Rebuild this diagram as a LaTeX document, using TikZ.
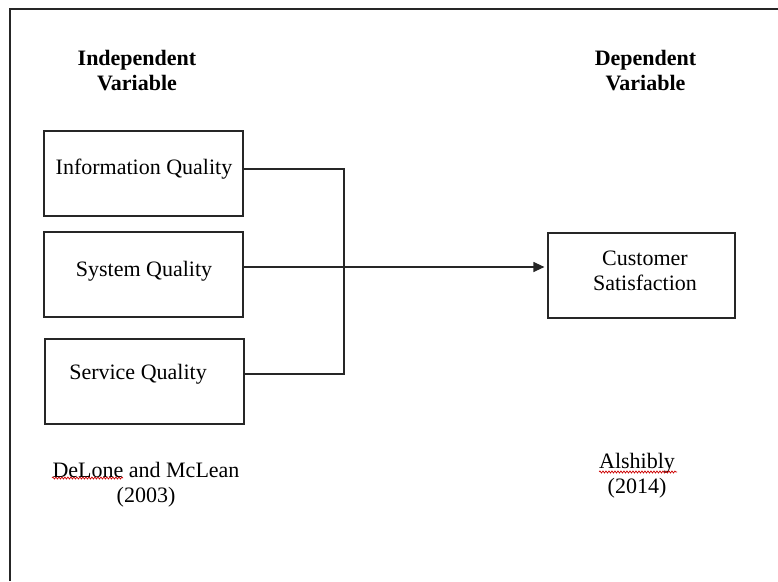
\documentclass[tikz,border=0pt]{standalone}
\usepackage{fontspec}
\setmainfont{Liberation Serif}
\usetikzlibrary{arrows.meta,decorations.pathmorphing}
\begin{document}
\begin{tikzpicture}[x=1pt,y=-1pt,
  box/.style={draw=black!85,line width=1.2pt,minimum width=199pt,minimum height=85pt,inner sep=0pt},
  txt/.style={inner sep=0pt,align=center,font=\fontsize{22}{25}\selectfont},
  head/.style={txt,font=\fontsize{22}{25}\selectfont\bfseries},
  conn/.style={draw=black!85,line width=1.2pt},
  squig/.style={draw=red!80!black,line width=0.7pt,decorate,decoration={snake,amplitude=1pt,segment length=3pt}}]
\useasboundingbox (0,0) rectangle (778,581);
% frame (open at right and bottom)
\draw[line width=2pt,black!85] (10,581) -- (10,9) -- (778,9);
% headings
\node[head] (ihead) at (137,70.5) {Independent\\Variable};
\node[head] (dhead) at (645.5,70.5) {Dependent\\Variable};
% boxes
\node[box] (info) at (143.5,173.5) {};
\node[box] (sys) at (143.5,274.5) {};
\node[box] (serv) at (144.5,381.5) {};
\node[box,minimum width=187pt] (cust) at (641.5,275.5) {};
% box texts
\node[txt] (itext) at (144,169) {Information Quality};
\node[txt] (stext) at (144,271) {System Quality};
\node[txt] (svtext) at (138,374) {Service Quality};
\node[txt] (ctext) at (645,270.5) {Customer\\Satisfaction};
% connectors
\coordinate (junc) at (344,267);
\draw[conn] (info.east |- itext) -| (junc |- svtext) -- (serv.east |- svtext);
\draw[conn,-{Triangle[length=11pt,width=10pt]}] (sys.east |- junc) -- ([xshift=-3pt]cust.west |- junc);
% sources
\node[txt] (src1) at (146,485) {DeLone and McLean\\(2003)};
\node[txt] (src2) at (637,475.5) {Alshibly\\(2014)};
\coordinate (sq1a) at (52,478);
\coordinate (sq1b) at (123,478);
\coordinate (sq2a) at (599,472);
\coordinate (sq2b) at (677,472);
\draw[squig] (sq1a) -- (sq1b);
\draw[squig] (sq2a) -- (sq2b);
\end{tikzpicture}
\end{document}
